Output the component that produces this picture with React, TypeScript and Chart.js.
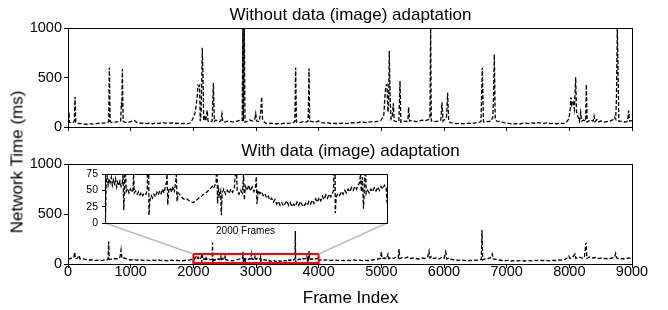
import React, { useEffect, useRef } from 'react';
import { Chart, registerables } from 'chart.js';

Chart.register(...registerables);

const FONT = '"Liberation Sans", Arial, Helvetica, sans-serif';

// ---------- texts ----------
const topTitle = 'Without data (image) adaptation';
const bottomTitle = 'With data (image) adaptation';
const yAxisLabel = 'Network Time (ms)';
const xAxisLabel = 'Frame Index';
const insetLabel = '2000 Frames';

// ---------- ticks / ranges ----------
const frameTicks = [0, 1000, 2000, 3000, 4000, 5000, 6000, 7000, 8000, 9000];
const mainTimeTicks = [0, 500, 1000];
const insetTimeTicks = [0, 25, 50, 75];
const frameMax = 9000;
const mainMax = 1000;
const insetMax = 75;
const zoomStart = 2000;
const zoomEnd = 4000;
const zoomTop = 100;

// ---------- series: [frame index, network time ms] ----------
const withoutAdaptation: [number, number][] = [
  [0, 45], [16, 150], [24, 48], [50, 42], [80, 46], [100, 55], [112, 305], [124, 50], [150, 38], [200, 35],
  [250, 30], [300, 28], [350, 32], [400, 30], [450, 35], [500, 38], [550, 40], [600, 42], [640, 48], [650, 60],
  [660, 600], [672, 55], [700, 45], [750, 50], [800, 55], [840, 60], [852, 250], [860, 200], [867, 585], [880, 60],
  [900, 50], [950, 45], [1000, 55], [1060, 65], [1100, 45], [1150, 38], [1200, 40], [1250, 35], [1300, 38], [1350, 33],
  [1400, 40], [1450, 36], [1500, 45], [1550, 40], [1600, 38], [1650, 42], [1700, 35], [1750, 38], [1800, 34], [1850, 36],
  [1900, 32], [1950, 40], [1990, 80], [2030, 150], [2060, 300], [2075, 420], [2090, 410], [2100, 420], [2110, 60], [2125, 150],
  [2143, 800], [2155, 500], [2165, 60], [2180, 120], [2200, 60], [2220, 170], [2235, 60], [2260, 50], [2300, 60], [2320, 445],
  [2335, 55], [2360, 70], [2400, 55], [2440, 60], [2457, 130], [2470, 55], [2500, 50], [2550, 60], [2600, 55], [2650, 50],
  [2700, 60], [2750, 70], [2780, 65], [2790, 1000], [2798, 60], [2805, 550], [2813, 1000], [2825, 50], [2850, 55], [2900, 70],
  [2950, 60], [2980, 80], [2995, 135], [3010, 60], [3050, 55], [3075, 150], [3090, 305], [3105, 70], [3150, 40], [3200, 35],
  [3250, 38], [3300, 30], [3350, 35], [3400, 32], [3450, 38], [3500, 36], [3550, 40], [3600, 45], [3620, 55], [3633, 600],
  [3645, 50], [3700, 45], [3750, 55], [3800, 50], [3830, 60], [3838, 250], [3846, 590], [3856, 60], [3900, 55], [3950, 50],
  [4000, 60], [4050, 45], [4100, 40], [4150, 42], [4200, 35], [4250, 38], [4300, 32], [4350, 36], [4400, 40], [4450, 34],
  [4500, 42], [4550, 45], [4600, 40], [4650, 48], [4700, 52], [4750, 45], [4800, 50], [4850, 55], [4900, 52], [4950, 60],
  [5000, 70], [5040, 120], [5060, 340], [5075, 420], [5090, 430], [5105, 150], [5115, 200], [5127, 768], [5140, 300], [5155, 80],
  [5175, 100], [5191, 240], [5205, 60], [5250, 55], [5280, 60], [5298, 465], [5312, 50], [5350, 60], [5400, 55], [5425, 70],
  [5436, 200], [5450, 60], [5500, 65], [5550, 55], [5600, 60], [5650, 70], [5700, 65], [5750, 75], [5775, 80], [5787, 1000],
  [5797, 60], [5850, 55], [5900, 60], [5950, 70], [5968, 250], [5985, 60], [6040, 100], [6058, 345], [6075, 60], [6100, 45],
  [6150, 40], [6200, 35], [6250, 38], [6300, 32], [6350, 36], [6400, 40], [6450, 35], [6500, 42], [6550, 45], [6590, 55],
  [6611, 600], [6630, 50], [6700, 55], [6750, 60], [6780, 100], [6790, 300], [6803, 734], [6818, 80], [6840, 60], [6900, 55],
  [6950, 45], [7000, 40], [7050, 35], [7100, 30], [7150, 34], [7200, 30], [7250, 36], [7300, 40], [7350, 35], [7400, 42],
  [7450, 38], [7500, 45], [7550, 40], [7600, 36], [7650, 42], [7700, 35], [7750, 38], [7800, 33], [7850, 40], [7900, 35],
  [7950, 45], [7990, 80], [8010, 150], [8026, 300], [8040, 220], [8060, 250], [8080, 180], [8101, 502], [8115, 150], [8140, 100],
  [8160, 60], [8181, 150], [8195, 60], [8230, 70], [8260, 60], [8271, 431], [8285, 50], [8330, 70], [8380, 60], [8395, 110],
  [8410, 55], [8440, 75], [8460, 50], [8500, 60], [8550, 50], [8600, 55], [8650, 60], [8700, 75], [8720, 100], [8740, 80],
  [8752, 300], [8766, 1000], [8775, 650], [8790, 60], [8850, 55], [8900, 50], [8930, 60], [8947, 165], [8960, 60], [9000, 65],
];

const withAdaptation: [number, number][] = [
  [0, 50], [40, 55], [80, 60], [95, 70], [107, 117], [118, 50], [150, 60], [180, 85], [190, 50], [230, 55],
  [280, 45], [330, 40], [380, 42], [430, 35], [480, 38], [530, 33], [580, 40], [620, 42], [640, 50], [649, 225],
  [658, 45], [700, 48], [750, 55], [800, 50], [830, 70], [846, 140], [860, 55], [900, 60], [950, 45], [1000, 40],
  [1050, 45], [1100, 38], [1150, 42], [1200, 35], [1250, 40], [1300, 33], [1350, 38], [1400, 35], [1450, 40], [1500, 33],
  [1550, 36], [1600, 32], [1650, 38], [1700, 34], [1750, 36], [1800, 30], [1850, 35], [1900, 38], [1950, 42], [1990, 50],
  [2000, 50], [2003, 2], [2008, 60], [2015, 72], [2022, 58], [2030, 68], [2037, 62], [2045, 70], [2052, 58], [2060, 66],
  [2068, 60], [2075, 68], [2083, 55], [2090, 62], [2098, 57], [2106, 64], [2114, 56], [2122, 60], [2128, 75], [2133, 20],
  [2138, 52], [2143, 110], [2150, 48], [2160, 53], [2170, 46], [2180, 52], [2190, 47], [2198, 50], [2203, 75], [2208, 46],
  [2218, 49], [2228, 44], [2238, 48], [2248, 43], [2258, 47], [2268, 42], [2278, 46], [2290, 44], [2300, 50], [2306, 214],
  [2312, 12], [2318, 35], [2328, 42], [2338, 38], [2348, 44], [2358, 40], [2368, 47], [2378, 43], [2388, 49], [2398, 45],
  [2408, 52], [2418, 46], [2428, 55], [2436, 62], [2440, 75], [2445, 28], [2452, 50], [2462, 54], [2472, 47], [2482, 56],
  [2492, 49], [2500, 60], [2506, 74], [2511, 33], [2520, 46], [2535, 42], [2550, 38], [2565, 36], [2580, 37], [2595, 34],
  [2610, 33], [2625, 31], [2640, 34], [2655, 36], [2670, 39], [2685, 41], [2700, 44], [2715, 46], [2730, 49], [2745, 52],
  [2760, 56], [2770, 53], [2780, 58], [2788, 62], [2793, 120], [2798, 30], [2806, 52], [2814, 42], [2820, 48], [2825, 12],
  [2831, 46], [2842, 52], [2855, 44], [2868, 50], [2880, 45], [2893, 52], [2905, 47], [2918, 54], [2930, 100], [2938, 48],
  [2950, 44], [2962, 50], [2974, 46], [2983, 74], [2988, 35], [2996, 56], [3008, 50], [3020, 58], [3032, 49], [3044, 55],
  [3056, 48], [3066, 52], [3073, 71], [3078, 29], [3086, 50], [3098, 45], [3110, 48], [3122, 42], [3134, 45], [3146, 38],
  [3158, 41], [3170, 35], [3182, 38], [3194, 32], [3206, 36], [3218, 29], [3230, 33], [3242, 27], [3254, 31], [3266, 26],
  [3278, 30], [3290, 34], [3302, 27], [3314, 31], [3326, 25], [3338, 29], [3350, 26], [3362, 32], [3374, 27], [3386, 33],
  [3398, 28], [3410, 25], [3422, 30], [3434, 27], [3446, 33], [3458, 29], [3470, 35], [3482, 30], [3494, 37], [3506, 32],
  [3518, 39], [3530, 34], [3542, 41], [3554, 36], [3566, 43], [3578, 38], [3590, 44], [3602, 40], [3614, 46], [3622, 50],
  [3627, 330], [3633, 15], [3640, 40], [3652, 45], [3664, 42], [3676, 48], [3688, 44], [3700, 50], [3712, 46], [3724, 52],
  [3736, 48], [3748, 54], [3760, 50], [3772, 56], [3784, 52], [3796, 58], [3806, 62], [3812, 75], [3818, 48], [3826, 70],
  [3833, 22], [3840, 52], [3846, 130], [3852, 45], [3862, 50], [3874, 46], [3886, 52], [3898, 48], [3910, 54], [3922, 49],
  [3934, 55], [3946, 50], [3958, 56], [3970, 52], [3982, 58], [3994, 55], [4000, 30],
  [4020, 40], [4060, 45], [4100, 38], [4150, 42], [4200, 36], [4250, 40], [4300, 35], [4350, 38], [4400, 33], [4450, 37],
  [4500, 35], [4550, 40], [4600, 36], [4650, 38], [4700, 33], [4750, 37], [4800, 35], [4850, 40], [4900, 45], [4950, 50],
  [4990, 60], [5000, 125], [5010, 55], [5050, 60], [5080, 50], [5106, 100], [5120, 55], [5160, 65], [5200, 55], [5240, 70],
  [5270, 60], [5282, 150], [5295, 55], [5340, 65], [5380, 60], [5420, 70], [5460, 55], [5500, 60], [5550, 55], [5600, 50],
  [5650, 60], [5700, 55], [5740, 70], [5761, 130], [5775, 60], [5800, 75], [5830, 55], [5870, 60], [5920, 50], [5960, 65],
  [6000, 55], [6027, 120], [6045, 50], [6080, 60], [6120, 45], [6170, 40], [6220, 38], [6270, 35], [6320, 37], [6370, 33],
  [6420, 36], [6470, 34], [6520, 38], [6570, 40], [6595, 45], [6606, 341], [6618, 40], [6650, 50], [6700, 55], [6740, 60],
  [6771, 100], [6785, 50], [6830, 45], [6880, 40], [6930, 35], [6980, 33], [7030, 36], [7080, 30], [7130, 34], [7180, 31],
  [7230, 35], [7280, 30], [7330, 34], [7380, 32], [7430, 36], [7480, 33], [7530, 38], [7580, 34], [7630, 36], [7680, 32],
  [7730, 37], [7780, 35], [7830, 40], [7880, 38], [7930, 45], [7963, 60], [7990, 80], [8010, 55], [8050, 65], [8090, 100],
  [8105, 55], [8150, 70], [8200, 60], [8240, 65], [8266, 214], [8280, 55], [8320, 70], [8370, 60], [8420, 65], [8470, 55],
  [8520, 60], [8570, 55], [8620, 50], [8680, 60], [8720, 65], [8739, 105], [8755, 60], [8800, 50], [8850, 55], [8900, 50],
  [8950, 60], [9000, 55],
];

// ---------- helpers ----------
function lineDataset(points: [number, number][]) {
  return {
    data: points.map(([x, y]) => ({ x, y })),
    borderColor: '#000',
    borderWidth: 1.3,
    borderDash: [4, 2],
    pointRadius: 0,
    tension: 0,
    fill: false,
    borderJoinStyle: 'miter',
    borderCapStyle: 'butt',
  };
}

function yAxis(ticksArr: number[], max: number, width: number, size: number, tickLen: number, pad: number) {
  return {
    type: 'linear',
    min: 0,
    max,
    afterBuildTicks: (s: any) => {
      s.ticks = ticksArr.map((value) => ({ value }));
    },
    ticks: { color: '#000', font: { family: FONT, size }, padding: pad, callback: (v: any) => String(v) },
    grid: { drawOnChartArea: false, drawTicks: true, tickLength: tickLen, color: '#000', lineWidth: 1 },
    border: { display: false },
    afterFit: (s: any) => {
      s.width = width;
    },
  };
}

function xAxis(showLabels: boolean) {
  return {
    type: 'linear',
    min: 0,
    max: frameMax,
    afterBuildTicks: (s: any) => {
      s.ticks = frameTicks.map((value) => ({ value }));
    },
    ticks: {
      display: showLabels,
      color: '#000',
      font: { family: FONT, size: 14.5, lineHeight: 1 },
      padding: -3,
      maxRotation: 0,
      autoSkip: false,
      callback: (v: any) => String(v),
    },
    grid: { drawOnChartArea: false, drawTicks: true, tickLength: 4, color: '#000', lineWidth: 1 },
    border: { display: false },
    afterFit: (s: any) => {
      s.height = 20;
    },
  };
}

const framePlugin = {
  id: 'boxFrame',
  afterDatasetsDraw(chart: any) {
    const { ctx, chartArea: a } = chart;
    ctx.save();
    ctx.strokeStyle = '#000';
    ctx.lineWidth = 1;
    ctx.strokeRect(Math.round(a.left) + 0.5, Math.round(a.top) + 0.5, Math.round(a.right - a.left), Math.round(a.bottom - a.top));
    ctx.restore();
  },
};

const zoomBoxPlugin = {
  id: 'zoomBox',
  afterDatasetsDraw(chart: any) {
    const { ctx } = chart;
    const xs = chart.scales.x;
    const ys = chart.scales.y;
    const l = xs.getPixelForValue(zoomStart);
    const r = xs.getPixelForValue(zoomEnd);
    const t = ys.getPixelForValue(zoomTop);
    const b = ys.getPixelForValue(0);
    ctx.save();
    ctx.strokeStyle = '#ff0000';
    ctx.lineWidth = 2;
    ctx.strokeRect(l, t, r - l, b - t - 1);
    ctx.restore();
  },
};

function insetPlugins(main: any) {
  return [
    {
      id: 'insetBg',
      beforeDraw(chart: any) {
        const { ctx, chartArea: a } = chart;
        ctx.save();
        ctx.fillStyle = '#fff';
        ctx.fillRect(a.left, a.top, a.right - a.left, a.bottom - a.top);
        const xs = main.scales.x;
        const ys = main.scales.y;
        const l = xs.getPixelForValue(zoomStart);
        const r = xs.getPixelForValue(zoomEnd);
        const t = ys.getPixelForValue(zoomTop);
        ctx.strokeStyle = '#bdbdbd';
        ctx.lineWidth = 1.6;
        ctx.beginPath();
        ctx.moveTo(a.left, a.bottom);
        ctx.lineTo(l, t);
        ctx.moveTo(a.right, a.bottom);
        ctx.lineTo(r, t);
        ctx.stroke();
        ctx.restore();
      },
    },
    framePlugin,
  ];
}

function baseOptions(padding: any, scales: any) {
  return {
    animation: false,
    responsive: false,
    events: [],
    plugins: { legend: { display: false }, tooltip: { enabled: false }, title: { display: false } },
    layout: { padding },
    scales,
  };
}

const canvasStyle: React.CSSProperties = { position: 'absolute', left: 0, top: 0, display: 'block' };

export default function App() {
  const topRef = useRef<HTMLCanvasElement>(null);
  const bottomRef = useRef<HTMLCanvasElement>(null);
  const insetRef = useRef<HTMLCanvasElement>(null);

  useEffect(() => {
    const top = new Chart(topRef.current as HTMLCanvasElement, {
      type: 'line',
      data: { datasets: [lineDataset(withoutAdaptation) as any] },
      options: baseOptions(
        { top: 28, right: 36, bottom: 163, left: 0 },
        { x: xAxis(false), y: yAxis(mainTimeTicks, mainMax, 68, 14.5, 4, 2) }
      ) as any,
      plugins: [framePlugin],
    });
    const bottom = new Chart(bottomRef.current as HTMLCanvasElement, {
      type: 'line',
      data: { datasets: [lineDataset(withAdaptation) as any] },
      options: baseOptions(
        { top: 164, right: 36, bottom: 26, left: 0 },
        { x: xAxis(true), y: yAxis(mainTimeTicks, mainMax, 68, 14.5, 4, 2) }
      ) as any,
      plugins: [framePlugin, zoomBoxPlugin],
    });
    const inset = new Chart(insetRef.current as HTMLCanvasElement, {
      type: 'line',
      data: { datasets: [lineDataset(withAdaptation) as any] },
      options: baseOptions(
        { top: 174, right: 281, bottom: 87, left: 0 },
        {
          x: { type: 'linear', display: false, min: zoomStart, max: zoomEnd },
          y: yAxis(insetTimeTicks, insetMax, 105, 10.5, 3, 4),
        }
      ) as any,
      plugins: insetPlugins(bottom),
    });
    return () => {
      inset.destroy();
      bottom.destroy();
      top.destroy();
    };
  }, []);

  const text: React.CSSProperties = {
    position: 'absolute',
    fontFamily: FONT,
    color: '#000',
    lineHeight: 1,
    whiteSpace: 'nowrap',
  };

  return (
    <div style={{ position: 'fixed', left: 0, top: 0, width: 668, height: 310, background: '#fff', overflow: 'hidden' }}>
      <canvas ref={bottomRef} width={668} height={310} style={canvasStyle} />
      <canvas ref={topRef} width={668} height={310} style={canvasStyle} />
      <canvas ref={insetRef} width={668} height={310} style={canvasStyle} />
      <div style={{ ...text, fontSize: 17, left: 350.5, top: 5.6, transform: 'translateX(-50%)' }}>{topTitle}</div>
      <div style={{ ...text, fontSize: 17, left: 350.5, top: 142.3, transform: 'translateX(-50%)' }}>{bottomTitle}</div>
      <div style={{ ...text, fontSize: 17, left: 350.5, top: 289, transform: 'translateX(-50%)' }}>{xAxisLabel}</div>
      <div style={{ ...text, fontSize: 10, left: 245.5, top: 225.5, transform: 'translateX(-50%)' }}>{insetLabel}</div>
      <div
        style={{
          ...text,
          fontSize: 17,
          left: 16.5,
          top: 162,
          transform: 'translate(-50%, -50%) rotate(-90deg)',
        }}
      >
        {yAxisLabel}
      </div>
    </div>
  );
}
